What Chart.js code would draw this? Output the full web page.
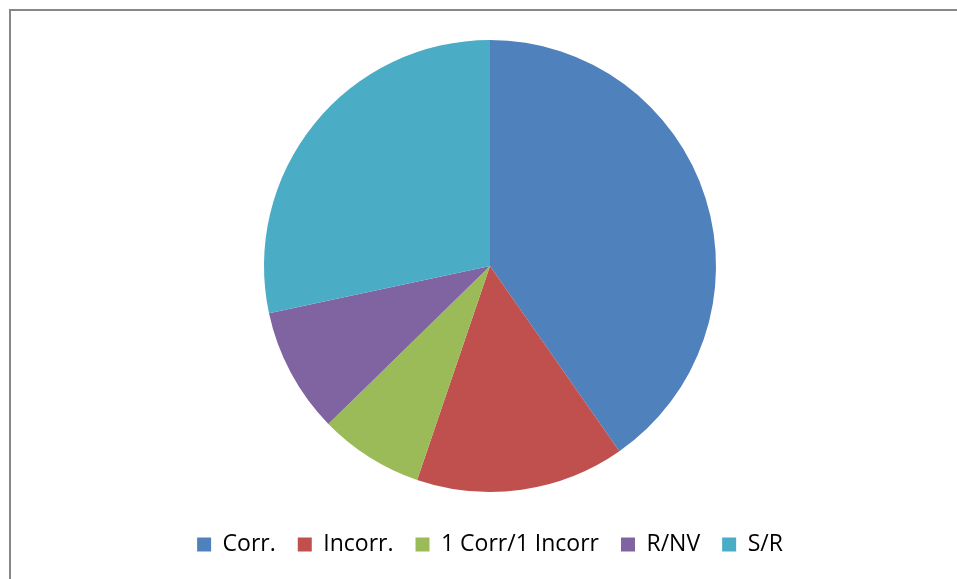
<!DOCTYPE html>
<html>
<head>
<meta charset="utf-8">
<script src="https://cdn.jsdelivr.net/npm/chart.js@4/dist/chart.umd.min.js"></script>
<style>
  html, body { margin: 0; padding: 0; background: #fff; overflow: hidden; }
  #frame { position: absolute; left: 9px; top: 9px; width: 1000px; height: 700px; border-left: 2px solid #878787; border-top: 2px solid #878787; }
  #wrap { position: absolute; left: 0; top: 0; width: 957px; height: 579px; }
</style>
</head>
<body>
<div id="frame"></div>
<div id="wrap"><canvas id="pieChart"></canvas></div>
<script>
  // answer categories and how many fell in each
  const labels = ['Corr.', 'Incorr.', '1 Corr/1 Incorr', 'R/NV', 'S/R'];
  const counts = [27, 10, 5, 6, 19];
  const colors = ['#4F81BD', '#C0504D', '#9BBB59', '#8064A2', '#4BACC6'];

  new Chart(document.getElementById('pieChart'), {
    type: 'pie',
    data: {
      labels,
      datasets: [{ data: counts, backgroundColor: colors, borderWidth: 0, radius: 226 }]
    },
    options: {
      responsive: true,
      maintainAspectRatio: false,
      animation: false,
      layout: { padding: { left: 23, right: 0, top: 21, bottom: 13 } },
      plugins: {
        legend: {
          position: 'bottom',
          labels: { font: { family: 'Open Sans', size: 23 }, color: '#000', boxWidth: 14, boxHeight: 14, padding: 22 }
        },
        tooltip: { enabled: false }
      }
    }
  });
</script>
</body>
</html>
